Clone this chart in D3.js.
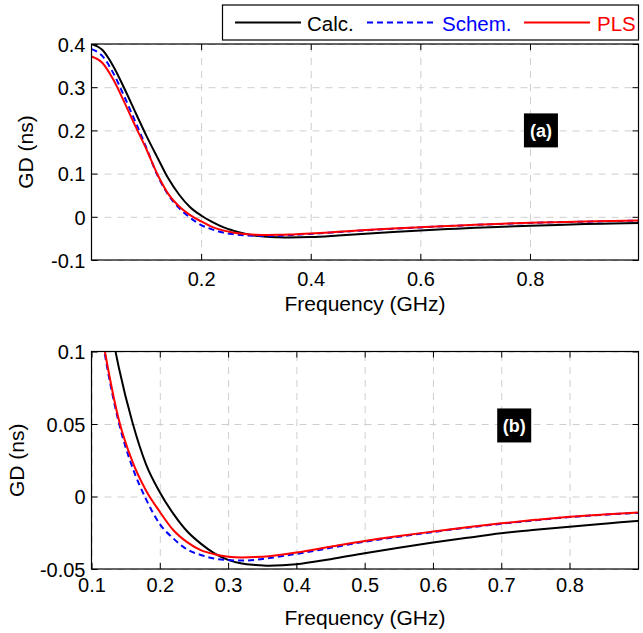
<!DOCTYPE html>
<html>
<head>
<meta charset="utf-8">
<script src="https://cdn.jsdelivr.net/npm/d3@7"></script>
<style>
  html, body { margin: 0; padding: 0; background: #fff; }
  svg { display: block; font-family: "Liberation Sans", Arial, Helvetica, sans-serif; }
</style>
</head>
<body>
<svg id="chart" width="643" height="633"></svg>
<script>
// ---------- data ----------
const freq = [0, 0.02, 0.04, 0.06, 0.08, 0.10, 0.12, 0.14, 0.16, 0.18, 0.20, 0.22, 0.24, 0.26, 0.28, 0.30,
              0.32, 0.34, 0.36, 0.38, 0.40, 0.45, 0.50, 0.55, 0.60, 0.65, 0.70, 0.75, 0.80, 0.85, 0.90, 0.95, 1.0];
const gdCalc = [0.400, 0.386, 0.348, 0.297, 0.242, 0.188, 0.138, 0.089, 0.051, 0.022, 0.003, -0.012, -0.024,
                -0.0325, -0.0392, -0.0437, -0.0462, -0.0472, -0.0477, -0.0474, -0.0467, -0.0432, -0.0392,
                -0.0354, -0.0318, -0.0285, -0.0254, -0.0230, -0.0208, -0.0188, -0.0169, -0.0155, -0.0142];
const gdSchem = [0.388, 0.372, 0.332, 0.278, 0.220, 0.160, 0.097, 0.051, 0.020, -0.002, -0.019, -0.029,
                 -0.0365, -0.0403, -0.0428, -0.0438, -0.0442, -0.0437, -0.0425, -0.0411, -0.0396, -0.0354,
                 -0.0312, -0.0277, -0.0245, -0.0215, -0.0188, -0.0164, -0.0142, -0.0126, -0.0113, -0.0100, -0.0090];
const gdPLS = [0.371, 0.356, 0.317, 0.265, 0.210, 0.157, 0.099, 0.053, 0.024, 0.004, -0.0105, -0.0233,
               -0.0315, -0.0370, -0.0398, -0.0415, -0.0420, -0.0418, -0.0412, -0.0400, -0.0387, -0.0347,
               -0.0307, -0.0273, -0.0242, -0.0212, -0.0185, -0.0161, -0.0139, -0.0124, -0.0111, -0.0098, -0.0088];

const seriesNames = ["Calc.", "Schem.", "PLS"];
const seriesColors = ["#000000", "#0000ff", "#ff0000"];
const seriesDash = [null, "6,4", null];

const xTicksTop = [0.2, 0.4, 0.6, 0.8];
const yTicksTop = [-0.1, 0, 0.1, 0.2, 0.3, 0.4];
const xTicksBottom = [0.1, 0.2, 0.3, 0.4, 0.5, 0.6, 0.7, 0.8];
const yTicksBottom = [-0.05, 0, 0.05, 0.1];
const xLabel = "Frequency (GHz)";
const yLabel = "GD (ns)";

// ---------- drawing ----------
const svg = d3.select("#chart");
const fmt = d => String(+d.toFixed(4));   // plain hyphen-minus like the reference
const allSeries = [gdCalc, gdSchem, gdPLS].map((vals, i) => ({
  name: seriesNames[i], color: seriesColors[i], dash: seriesDash[i],
  points: freq.map((f, j) => [f, vals[j]])
}));

function panel(cfg) {
  const {left, right, top, bottom, xDomain, yDomain, xTicks, yTicks, id, tag, tagPos,
         xLabBase, xTitleBase, yTitleX} = cfg;
  const x = d3.scaleLinear().domain(xDomain).range([left, right]);
  const y = d3.scaleLinear().domain(yDomain).range([bottom, top]);
  const w = right - left, h = bottom - top;
  const g = svg.append("g");

  g.append("clipPath").attr("id", id).append("rect")
    .attr("x", left).attr("y", top).attr("width", w).attr("height", h);

  // grid
  const gx = g.append("g").attr("transform", `translate(0,${bottom})`)
    .call(d3.axisBottom(x).tickValues(xTicks).tickSize(-h).tickFormat(""));
  const gy = g.append("g").attr("transform", `translate(${left},0)`)
    .call(d3.axisLeft(y).tickValues(yTicks).tickSize(-w).tickFormat(""));
  [gx, gy].forEach(a => {
    a.select(".domain").remove();
    a.selectAll("line").attr("stroke", "#cfcfcf").attr("stroke-width", 1).attr("stroke-dasharray", "7,6");
  });

  // lines
  const line = d3.line().x(d => x(d[0])).y(d => y(d[1])).curve(d3.curveMonotoneX);
  const lg = g.append("g").attr("clip-path", `url(#${id})`);
  allSeries.forEach(s => {
    lg.append("path").datum(s.points).attr("d", line)
      .attr("fill", "none").attr("stroke", s.color).attr("stroke-width", 2)
      .attr("stroke-dasharray", s.dash);
  });

  // tag label
  const tg = g.append("g");
  tg.append("rect").attr("x", x(tagPos[0]) - 17).attr("y", y(tagPos[1]) - 17)
    .attr("width", 34).attr("height", 34).attr("fill", "#000");
  tg.append("text").attr("x", x(tagPos[0])).attr("y", y(tagPos[1]) + 6.5)
    .attr("text-anchor", "middle").attr("fill", "#fff").attr("font-weight", "bold")
    .attr("font-size", 18).text(tag);

  // axes with inward ticks
  const ab = g.append("g").attr("transform", `translate(0,${bottom})`)
    .call(d3.axisBottom(x).tickValues(xTicks).tickSize(-6).tickPadding(0).tickFormat(fmt));
  ab.selectAll("text").attr("y", xLabBase - bottom).attr("dy", null);
  const al = g.append("g").attr("transform", `translate(${left},0)`)
    .call(d3.axisLeft(y).tickValues(yTicks).tickSize(-6).tickPadding(6).tickFormat(fmt));
  const at = g.append("g").attr("transform", `translate(0,${top})`)
    .call(d3.axisTop(x).tickValues(xTicks).tickSize(-6).tickFormat(""));
  const ar = g.append("g").attr("transform", `translate(${right},0)`)
    .call(d3.axisRight(y).tickValues(yTicks).tickSize(-6).tickFormat(""));
  [ab, al, at, ar].forEach(a => {
    a.select(".domain").remove();
    a.attr("font-family", null).attr("font-size", 20);
    a.selectAll("line").attr("stroke", "#000").attr("stroke-width", 1);
    a.selectAll("text").attr("fill", "#000");
  });
  al.selectAll("text").attr("dy", "0.36em");

  // frame
  g.append("rect").attr("x", left).attr("y", top).attr("width", w).attr("height", h)
    .attr("fill", "none").attr("stroke", "#000").attr("stroke-width", 1.2);

  // titles
  g.append("text").attr("x", (left + right) / 2).attr("y", xTitleBase)
    .attr("text-anchor", "middle").attr("font-size", 21).text(xLabel);
  g.append("text").attr("transform", `translate(${yTitleX},${(top + bottom) / 2}) rotate(-90)`)
    .attr("text-anchor", "middle").attr("font-size", 21).text(yLabel);
}

panel({left: 91.5, right: 638.5, top: 44, bottom: 260, xDomain: [0, 0.998], yDomain: [-0.1, 0.4],
       xTicks: xTicksTop, yTicks: yTicksTop, id: "clipA", tag: "(a)", tagPos: [0.82, 0.2],
       xLabBase: 286, xTitleBase: 311, yTitleX: 33});
panel({left: 91.5, right: 638.5, top: 351.5, bottom: 569, xDomain: [0.1, 0.901], yDomain: [-0.05, 0.1],
       xTicks: xTicksBottom, yTicks: yTicksBottom, id: "clipB", tag: "(b)", tagPos: [0.719, 0.049],
       xLabBase: 592, xTitleBase: 625, yTitleX: 24});

// legend
const leg = svg.append("g");
leg.append("rect").attr("x", 222.5).attr("y", 5).attr("width", 416).attr("height", 35)
  .attr("fill", "#fff").attr("stroke", "#000").attr("stroke-width", 1.2);
const legLineX = [235, 367, 524];
const legTextX = [307, 442, 597];
allSeries.forEach((s, i) => {
  leg.append("line").attr("x1", legLineX[i]).attr("x2", legLineX[i] + 66).attr("y1", 22.5).attr("y2", 22.5)
    .attr("stroke", s.color).attr("stroke-width", 2).attr("stroke-dasharray", s.dash);
  leg.append("text").attr("x", legTextX[i]).attr("y", 30.5).attr("font-size", 20.5)
    .attr("fill", s.color).text(s.name);
});
</script>
</body>
</html>
